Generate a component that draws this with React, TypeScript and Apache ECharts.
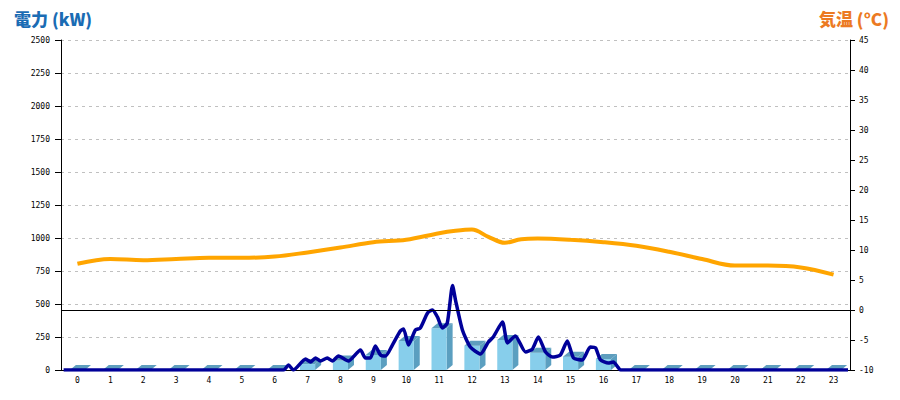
import React, { useEffect, useRef } from "react";
import * as echarts from "echarts";

const hours = Array.from({ length: 24 }, (_, i) => String(i));
const barValues = [0, 0, 0, 0, 0, 0, 0, 45, 72, 114, 220, 316, 184, 227, 131, 101, 83, 0, 0, 0, 0, 0, 0, 0];

const tempTimes = [0, 1, 2, 3, 4, 5, 6, 7, 8, 9, 10, 11, 11.5, 12, 12.5, 13, 13.5, 14, 15, 16, 17, 18, 19, 20, 21, 22, 23];
const tempValues = [7.7, 8.5, 8.3, 8.5, 8.7, 8.7, 8.9, 9.6, 10.4, 11.3, 11.7, 12.8, 13.2, 13.4, 12.2, 11.2, 11.8, 11.9, 11.7, 11.3, 10.7, 9.7, 8.5, 7.4, 7.4, 7.1, 5.9];

const powerTimes = [-0.42, 6.27, 6.42, 6.57, 6.94, 7.09, 7.24, 7.39, 7.6, 7.76, 7.94, 8.24, 8.61, 8.76, 8.91, 9.06, 9.22, 9.37, 9.58, 9.82, 9.92, 10.07, 10.28, 10.43, 10.65, 10.8, 10.95, 11.1, 11.25, 11.41, 11.5, 11.71, 11.95, 12.26, 12.5, 12.65, 12.93, 13.08, 13.32, 13.63, 13.84, 14.02, 14.24, 14.45, 14.69, 14.9, 15.09, 15.36, 15.6, 15.76, 15.91, 16.15, 16.3, 16.46, 16.52, 23.44];
const powerValues = [0, 0, 38, 0, 83, 61, 91, 68, 91, 68, 106, 68, 152, 91, 91, 182, 114, 106, 189, 295, 311, 189, 303, 318, 432, 455, 402, 318, 356, 640, 530, 303, 174, 121, 212, 250, 364, 205, 258, 136, 159, 250, 136, 98, 114, 220, 91, 76, 174, 167, 76, 53, 61, 15, 0, 0];

const leftTicks = { min: 0, max: 2500, interval: 250 };
const rightTicks = { min: -10, max: 45, interval: 5 };

export default function App() {
  const ref = useRef<HTMLDivElement>(null);
  useEffect(() => {
    if (!ref.current) return;
    const chart = echarts.init(ref.current, null, { renderer: "svg" });
    const labelFont = { fontFamily: "DejaVu Sans Mono", fontSize: 8, color: "#000" };
    const front = "#87CEEB";
    const side = "#5B9FC0";
    const topC = "#5E9EBE";
    chart.setOption({
      animation: false,
      backgroundColor: "#fff",
      title: [
        {
          text: "電力 (kW)",
          left: 9,
          top: 5,
          textStyle: { fontFamily: "Noto Sans CJK JP", fontWeight: 900, fontSize: 17, color: "#1A6CB4" },
        },
        {
          text: "気温 (°C)",
          right: 6,
          top: 5,
          textStyle: { fontFamily: "Noto Sans CJK JP", fontWeight: 900, fontSize: 17, color: "#EC7A22" },
        },
      ],
      grid: { left: 61, right: 50, top: 40, bottom: 30 },
      xAxis: [
        {
          type: "category",
          data: hours,
          boundaryGap: true,
          axisLine: { onZero: false, lineStyle: { color: "#000", width: 1 } },
          axisTick: { show: false },
          axisLabel: { ...labelFont, interval: 0, margin: 6 },
          splitLine: { show: false },
        },
        { type: "value", min: -0.5, max: 23.5, show: false },
      ],
      yAxis: [
        {
          type: "value",
          ...leftTicks,
          axisLine: { show: true, onZero: false, lineStyle: { color: "#000", width: 1 } },
          axisTick: { show: true, length: 6, lineStyle: { color: "#000" } },
          axisLabel: { ...labelFont, margin: 11, formatter: (v: number) => String(v) },
          splitLine: { show: true, lineStyle: { color: "#c0c0c0", type: [3, 4], width: 1 } },
        },
        {
          type: "value",
          ...rightTicks,
          position: "right",
          axisLine: { show: true, onZero: false, lineStyle: { color: "#000", width: 1 } },
          axisTick: { show: true, length: 5, lineStyle: { color: "#000" } },
          axisLabel: { ...labelFont, margin: 9 },
          splitLine: { show: false },
        },
      ],
      series: [
        {
          type: "custom",
          xAxisIndex: 0,
          yAxisIndex: 0,
          data: barValues.map((v, i) => [i, v]),
          encode: { x: 0, y: 1 },
          z: 2,
          renderItem: (params: any, api: any) => {
            const idx = api.value(0);
            const v = api.value(1);
            const t = api.coord([idx, v]);
            const b = api.coord([idx, 0]);
            const w = api.size([1, 0])[0] * 0.46;
            const dx = 6;
            const dy = 5;
            const xl = t[0] - w / 2;
            const xr = t[0] + w / 2;
            return {
              type: "group",
              children: [
                {
                  type: "polygon",
                  shape: { points: [[xr, t[1]], [xr + dx, t[1] - dy], [xr + dx, b[1] - dy], [xr, b[1]]] },
                  style: { fill: side },
                },
                {
                  type: "rect",
                  shape: { x: xl, y: t[1], width: w, height: b[1] - t[1] },
                  style: { fill: front },
                },
                {
                  type: "polygon",
                  shape: { points: [[xl, t[1]], [xr, t[1]], [xr + dx, t[1] - dy], [xl + dx, t[1] - dy]] },
                  style: { fill: topC },
                },
              ],
            };
          },
        },
        {
          type: "line",
          xAxisIndex: 1,
          yAxisIndex: 1,
          data: tempTimes.map((t, i) => [t, tempValues[i]]),
          smooth: 0.35,
          symbol: "none",
          z: 3,
          lineStyle: { color: "#FFA500", width: 4 },
          markLine: {
            silent: true,
            symbol: "none",
            label: { show: false },
            lineStyle: { color: "#000", width: 1, type: "solid" },
            data: [{ yAxis: 0 }],
          },
        },
        {
          type: "line",
          xAxisIndex: 1,
          yAxisIndex: 0,
          data: powerTimes.map((t, i) => [t, powerValues[i]]),
          smooth: 0.2,
          symbol: "none",
          z: 4,
          lineStyle: { color: "#000099", width: 3.5 },
        },
      ],
    });
    return () => chart.dispose();
  }, []);
  return <div ref={ref} style={{ position: "fixed", left: 0, top: 0, width: 900, height: 400 }} />;
}
